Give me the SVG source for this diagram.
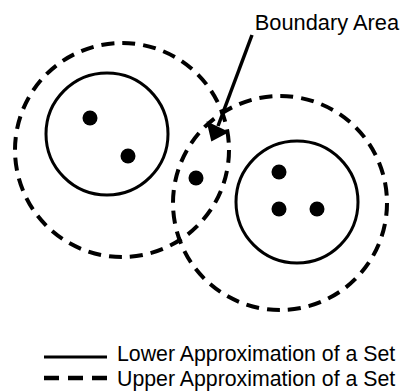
<svg xmlns="http://www.w3.org/2000/svg" width="401" height="391" viewBox="0 0 401 391">
<defs>
<style>
.dash{fill:none;stroke:#000;stroke-width:4;stroke-dasharray:13 8}
.solid{fill:none;stroke:#000;stroke-width:3}
.dot{fill:#000}
text{font-family:"Liberation Sans",Arial,sans-serif;font-size:21.3px;fill:#000}
</style>
</defs>
<rect width="401" height="391" fill="#fff"/>
<g id="upper-left"><circle class="dash" cx="122" cy="150" r="107"/></g>
<g id="upper-right"><circle class="dash" cx="280" cy="203" r="107"/></g>
<g id="lower-left"><circle class="solid" cx="107" cy="134" r="61"/></g>
<g id="lower-right"><circle class="solid" cx="297" cy="202" r="61"/></g>
<g id="dots-left">
<circle class="dot" cx="90" cy="118" r="7.5"/>
<circle class="dot" cx="128" cy="156" r="7.5"/>
</g>
<g id="dot-boundary"><circle class="dot" cx="196" cy="178" r="7.5"/></g>
<g id="dots-right">
<circle class="dot" cx="279" cy="172" r="7.5"/>
<circle class="dot" cx="279" cy="209" r="7.5"/>
<circle class="dot" cx="317" cy="209" r="7.5"/>
</g>
<g id="label-boundary"><text x="399" y="30" text-anchor="end" style="font-size:21.8px">Boundary Area</text></g>
<g id="connectors">
<line x1="252" y1="35" x2="218" y2="126" stroke="#000" stroke-width="3.5"/>
<polygon points="212,140 208,123 227,132" fill="#000" stroke="#000" stroke-width="2" stroke-linejoin="miter"/>
</g>
<g id="legend">
<line x1="44" y1="357" x2="107" y2="357" stroke="#000" stroke-width="3"/>
<text x="117" y="361">Lower Approximation of a Set</text>
<line x1="44" y1="378" x2="107" y2="378" stroke="#000" stroke-width="4.5" stroke-dasharray="15 9"/>
<text x="117" y="386">Upper Approximation of a Set</text>
</g>
</svg>
